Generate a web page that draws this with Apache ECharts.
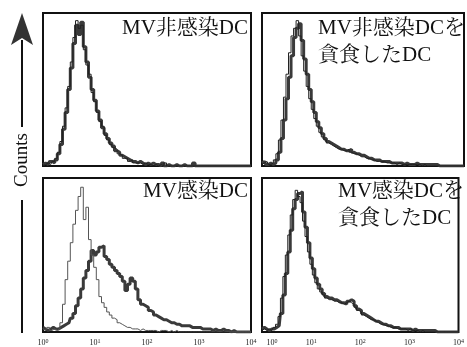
<!DOCTYPE html>
<html>
<head>
<meta charset="utf-8">
<script src="https://cdn.jsdelivr.net/npm/echarts@6/dist/echarts.min.js"></script>
<style>
  html, body { margin: 0; padding: 0; background: #fff; }
  #chart { width: 467px; height: 347px; }
</style>
</head>
<body>
<div id="chart"></div>
<script>
// log10 fluorescence channel positions (0 = 10^0 ... 4 = 10^4)
const xs = [
  0.00, 0.05, 0.10, 0.15, 0.20, 0.25, 0.30, 0.35, 0.40, 0.45,
  0.50, 0.55, 0.60, 0.65, 0.70, 0.75, 0.80, 0.85, 0.90, 0.95,
  1.00, 1.05, 1.10, 1.15, 1.20, 1.25, 1.30, 1.35, 1.40, 1.45,
  1.50, 1.55, 1.60, 1.65, 1.70, 1.75, 1.80, 1.85, 1.90, 1.95,
  2.00, 2.05, 2.10, 2.15, 2.20, 2.25, 2.30, 2.35, 2.40, 2.45,
  2.50, 2.55, 2.60, 2.65, 2.70, 2.75, 2.80, 2.85, 2.90, 2.95,
  3.00, 3.05, 3.10, 3.15, 3.20, 3.25, 3.30, 3.35, 3.40, 3.45,
  3.50, 3.55, 3.60, 3.65, 3.70, 3.75, 3.80, 3.85, 3.90, 3.95,
  4.00
];
const tickExps = ['0', '1', '2', '3', '4'];
const panelTitles = [
  ['MV非感染DC'],
  ['MV非感染DCを', '貪食したDC'],
  ['MV感染DC'],
  ['MV感染DCを', '貪食したDC']
];

// MV非感染DC
const uninfThick = [
  1, 2, 1, 3, 2, 4, 8, 14, 24, 35,
  50, 64, 80, 92, 86, 94, 78, 68, 58, 50,
  43, 36, 30, 25, 21, 18, 15, 13, 10, 9,
  7, 6, 5, 4, 3, 3, 2, 3, 2, 1,
  2, 1, 2, 1, 1, 0, 2, 0, 1, 0,
  0, 1, 0, 0, 1, 0, 0, 0, 2, 0,
  0, 0, 0, 0, 0, 0, 0, 0, 0, 0,
  0, 0, 0, 0, 0, 0, 0, 0, 0, 0,
  0
];
const uninfThin = [
  0, 1, 2, 1, 3, 5, 9, 16, 26, 38,
  52, 68, 84, 95, 90, 92, 76, 66, 60, 48,
  42, 35, 29, 26, 20, 17, 14, 12, 11, 8,
  7, 5, 5, 3, 4, 2, 2, 2, 1, 2,
  1, 1, 0, 1, 0, 1, 0, 2, 0, 0,
  0, 0, 0, 0, 0, 0, 0, 0, 0, 0,
  0, 0, 0, 0, 0, 0, 0, 0, 0, 0,
  0, 0, 0, 0, 0, 0, 0, 0, 0, 0,
  0
];
// MV非感染DCを貪食したDC
const uninfPhagThick = [
  2, 3, 1, 2, 1, 2, 4, 9, 18, 30,
  44, 58, 72, 84, 90, 93, 82, 70, 60, 50,
  42, 35, 29, 25, 21, 18, 16, 15, 14, 13,
  12, 11, 11, 10, 10, 11, 9, 8, 8, 7,
  7, 6, 5, 5, 4, 4, 4, 3, 3, 3,
  3, 2, 2, 2, 2, 2, 1, 2, 1, 1,
  1, 2, 1, 1, 1, 1, 1, 1, 1, 1,
  0, 0, 0, 0, 0, 0, 0, 0, 0, 0,
  0
];
const uninfPhagThin = [
  1, 2, 3, 1, 2, 4, 8, 17, 30, 45,
  60, 74, 85, 90, 95, 85, 72, 62, 52, 44,
  37, 31, 26, 22, 19, 17, 15, 14, 13, 12,
  11, 11, 10, 10, 11, 9, 8, 8, 7, 6,
  6, 5, 5, 4, 4, 3, 3, 3, 3, 2,
  2, 2, 2, 1, 2, 1, 1, 1, 1, 1,
  1, 1, 1, 0, 1, 0, 0, 0, 0, 0,
  0, 0, 0, 0, 0, 0, 0, 0, 0, 0,
  0
];
// MV感染DC
const infThick = [
  3, 2, 1, 2, 3, 2, 2, 3, 4, 5,
  6, 9, 12, 17, 22, 28, 35, 40, 46, 53,
  50, 52, 55, 56, 49, 47, 44, 42, 40, 38,
  36, 33, 27, 31, 35, 33, 28, 21, 18, 17,
  16, 14, 13, 11, 10, 9, 8, 8, 7, 6,
  6, 5, 5, 4, 4, 4, 4, 3, 3, 3,
  3, 2, 2, 2, 2, 1, 2, 1, 1, 2,
  1, 1, 0, 1, 0, 0, 0, 0, 0, 0,
  0
];
const infThin = [
  2, 1, 3, 1, 2, 1, 2, 6, 18, 34,
  46, 58, 70, 79, 88, 94, 73, 81, 60, 50,
  42, 34, 23, 19, 16, 13, 11, 9, 8, 6,
  5, 4, 3, 3, 2, 2, 2, 1, 2, 1,
  1, 1, 1, 1, 0, 1, 1, 1, 0, 1,
  0, 1, 0, 0, 0, 0, 0, 0, 0, 0,
  0, 0, 0, 0, 0, 0, 0, 0, 0, 0,
  0, 0, 0, 0, 0, 0, 0, 0, 0, 0,
  0
];
// MV感染DCを貪食したDC
const infPhagThick = [
  2, 3, 2, 1, 2, 2, 3, 4, 12, 24,
  38, 52, 66, 80, 86, 90, 91, 78, 68, 58,
  48, 41, 35, 31, 28, 25, 23, 22, 22, 21,
  21, 20, 19, 19, 18, 20, 21, 20, 17, 15,
  14, 12, 11, 10, 9, 8, 7, 7, 6, 5,
  5, 4, 4, 3, 3, 3, 2, 2, 2, 2,
  2, 1, 2, 1, 1, 1, 1, 1, 1, 1,
  1, 0, 0, 0, 0, 0, 0, 0, 0, 0,
  0
];
const infPhagThin = [
  1, 2, 1, 2, 1, 3, 5, 10, 22, 36,
  50, 63, 76, 86, 92, 88, 84, 72, 62, 52,
  44, 37, 32, 28, 26, 24, 22, 21, 21, 20,
  20, 19, 19, 18, 19, 20, 19, 18, 16, 14,
  13, 11, 10, 9, 8, 8, 7, 6, 5, 5,
  4, 4, 3, 3, 3, 2, 2, 2, 2, 1,
  2, 1, 1, 1, 0, 1, 0, 0, 0, 0,
  0, 0, 0, 0, 0, 0, 0, 0, 0, 0,
  0
];

const pairs = (vals) => xs.map((x, i) => [x, vals[i]]);

const serifFont = "'Liberation Serif', 'Noto Serif CJK JP', 'Noto Sans CJK JP', serif";

const grids = [
  { left: 43, top: 13, width: 208, height: 153 },
  { left: 262, top: 13, width: 202, height: 153 },
  { left: 43, top: 178, width: 208, height: 154 },
  { left: 262, top: 178, width: 202, height: 154 }
];

const chart = echarts.init(document.getElementById('chart'));

const curves = [
  [uninfThick, uninfThin],
  [uninfPhagThick, uninfPhagThin],
  [infThick, infThin],
  [infPhagThick, infPhagThin]
];

const series = [];
curves.forEach((pair, gi) => {
  series.push({
    type: 'line',
    xAxisIndex: gi,
    yAxisIndex: gi,
    data: pairs(pair[1]),
    step: 'middle',
    symbol: 'none',
    lineStyle: { color: gi === 2 ? '#555' : '#222', width: 1 },
    z: 3
  });
  series.push({
    type: 'line',
    xAxisIndex: gi,
    yAxisIndex: gi,
    data: pairs(pair[0]),
    step: 'middle',
    symbol: 'none',
    lineStyle: { color: '#3a3a3a', width: 3 },
    z: 2
  });
});

// panel labels
const graphics = [];
const titleSpots = [
  { x: 248, y: 35, align: 'right' },
  { x: 318, y: 35, align: 'left' },
  { x: 248, y: 198, align: 'right' },
  { x: 338, y: 198, align: 'left' }
];
panelTitles.forEach((lines, i) => {
  lines.forEach((t, li) => {
    graphics.push({
      type: 'text',
      z: 10,
      style: {
        text: t,
        x: titleSpots[i].x,
        y: titleSpots[i].y - 7 + li * 27,
        textAlign: titleSpots[i].align,
        textVerticalAlign: 'middle',
        font: '21px ' + serifFont,
        fill: '#111'
      }
    });
  });
});

// Counts arrow on the left
graphics.push(
  { type: 'line', shape: { x1: 22, y1: 40, x2: 22, y2: 127 }, style: { stroke: '#111', lineWidth: 2 } },
  { type: 'polygon', shape: { points: [[22, 13], [33, 45], [22, 38], [11, 45]] }, style: { fill: '#333' } },
  { type: 'line', shape: { x1: 22, y1: 200, x2: 22, y2: 333 }, style: { stroke: '#111', lineWidth: 2 } },
  {
    type: 'text',
    x: 22,
    y: 160,
    rotation: Math.PI / 2,
    style: {
      text: 'Counts',
      x: 0,
      y: 0,
      textAlign: 'center',
      textVerticalAlign: 'middle',
      font: '19px ' + serifFont,
      fill: '#111'
    }
  }
);

const labelRich = {
  b: { fontFamily: serifFont, fontSize: 8, color: '#222' },
  s: { fontFamily: serifFont, fontSize: 6, color: '#222', verticalAlign: 'top', padding: [0, 0, 3, 0] },
  fb: { fontFamily: serifFont, fontSize: 8, color: '#222', padding: [0, 0, 0, 20] }
};

const option = {
  backgroundColor: '#fff',
  animation: false,
  grid: grids.map((g) => ({ ...g, show: true, borderColor: '#111', borderWidth: 2, backgroundColor: 'transparent' })),
  xAxis: grids.map((g, i) => ({
    type: 'value',
    gridIndex: i,
    min: 0,
    max: 4,
    interval: 1,
    axisLine: { show: false },
    axisTick: { show: false },
    splitLine: { show: false },
    axisLabel: {
      show: i >= 2,
      margin: 6,
      formatter: (v) => {
        const first = i === 3 && Math.round(v) === 0;
        return '{' + (first ? 'fb' : 'b') + '|10}{s|' + tickExps[Math.round(v)] + '}';
      },
      rich: labelRich
    }
  })),
  yAxis: grids.map((g, i) => ({
    type: 'value',
    gridIndex: i,
    min: 0,
    max: 100,
    show: false,
    splitLine: { show: false }
  })),
  series: series,
  graphic: graphics
};

chart.setOption(option);
</script>
</body>
</html>
